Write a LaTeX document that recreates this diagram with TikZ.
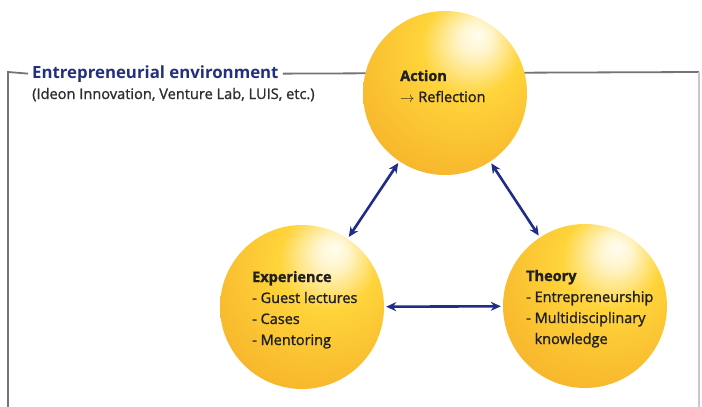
\documentclass[tikz,border=0pt]{standalone}
\usepackage{fontspec}
\setmainfont{Open Sans}
\newfontfamily\medfont[FakeBold=1.3]{Open Sans}
\usetikzlibrary{arrows.meta}

\definecolor{navy}{HTML}{22307E}
\definecolor{arrowblue}{HTML}{1F2C88}
\definecolor{framegray}{HTML}{77727A}
\definecolor{balledge}{HTML}{E8921E}
\definecolor{ballmid}{HTML}{F7B62C}
\definecolor{ballyellow}{HTML}{FFD43A}
\definecolor{ballhigh}{HTML}{FFFDF0}

\pgfdeclareradialshading{goldball}{\pgfpoint{10bp}{18bp}}{%
  color(0bp)=(ballhigh);
  color(5bp)=(ballhigh!80!ballyellow);
  color(15bp)=(ballyellow);
  color(36bp)=(ballmid);
  color(56bp)=(balledge);
  color(72bp)=(balledge)}

\tikzset{
  sphere/.style={circle, minimum size=164pt, inner sep=0pt, shading=goldball},
  link/.style={{Stealth[length=10pt,width=9pt]}-{Stealth[length=10pt,width=9pt]},
    line width=2.6pt, draw=arrowblue, shorten <=2pt, shorten >=2pt},
  frame/.style={draw=framegray, line width=1.8pt},
  balltext/.style={anchor=base west, inner sep=0pt, align=left,
    font=\fontsize{14.5}{21}\medfont, text=black!88},
}

\begin{document}
\begin{tikzpicture}[x=1pt, y=-1pt]
  \useasboundingbox (0,0) rectangle (702,407);

  % environment frame
  \node [anchor=base west, inner sep=4pt, text=navy,
    font=\fontsize{16.8}{18}\selectfont\bfseries] (envtitle) at (28,78)
    {Entrepreneurial environment};
  \node [anchor=base west, inner sep=0pt, text=black!82,
    font=\fontsize{14.6}{15}\medfont] (envsub) at (32,99)
    {(Ideon Innovation, Venture Lab, LUIS, etc.)};
  \draw [frame] (envtitle.west) -- (8,72) -- (8,407);
  \draw [frame] (envtitle.east) -- (699,72);
  \draw [draw=framegray!40, line width=1.2pt] (699,72) -- (699,407);

  % spheres
  \node [sphere] (action) at (445,93) {};
  \node [sphere] (exper) at (302,307) {};
  \node [sphere] (theory) at (585,306) {};

  % base anchor sits on the last line
  \node [balltext] (actiontxt) at (400,102)
    {\textbf{Action}\\$\rightarrow$ Reflection};
  \node [balltext] (expertxt) at (252,345)
    {\textbf{Experience}\\- Guest lectures\\- Cases\\- Mentoring};
  \node [balltext] (theorytxt) at (526,344)
    {\textbf{Theory}\\- Entrepreneurship\\- Multidisciplinary\\\phantom{- }knowledge};

  % links
  \draw [link] (action) -- (exper);
  \draw [link] (action) -- (theory);
  \draw [link] (exper) -- (theory);
\end{tikzpicture}
\end{document}
